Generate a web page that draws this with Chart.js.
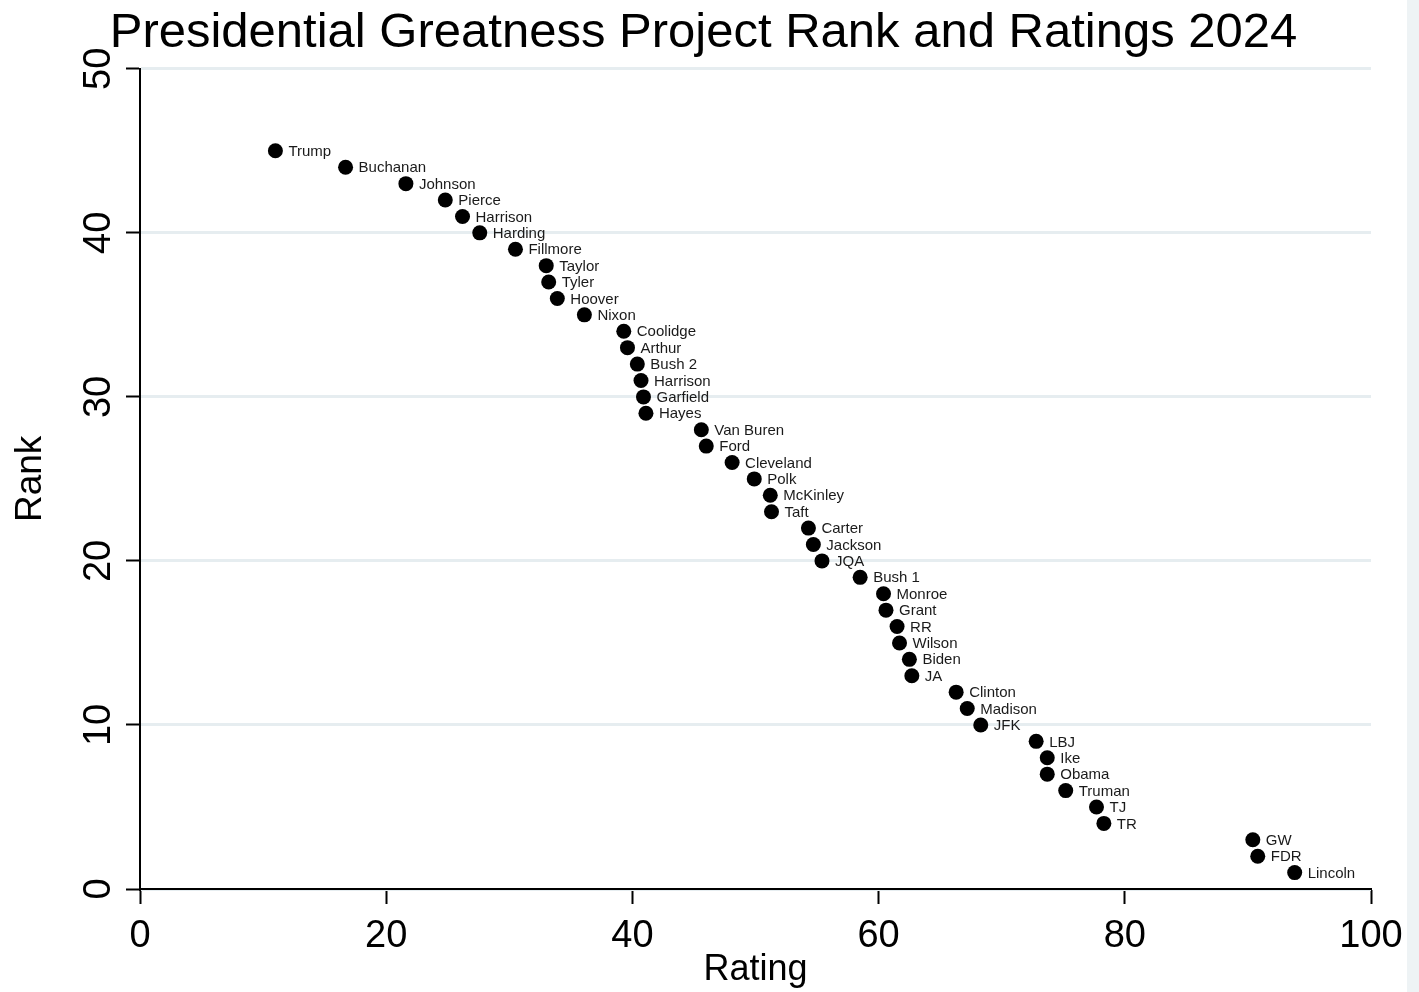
<!DOCTYPE html>
<html>
<head>
<meta charset="utf-8">
<script src="https://cdn.jsdelivr.net/npm/chart.js@4.4.1/dist/chart.umd.min.js"></script>
<style>
  html, body { margin: 0; padding: 0; background: #eef3f5; }
  #wrap { position: absolute; left: 0; top: 0; width: 1407px; height: 992px; background: #ffffff; }
</style>
</head>
<body>
<div id="wrap"><canvas id="c"></canvas></div>
<script>
// ---- Data ----
const presidents = [
  "Trump", "Buchanan", "Johnson", "Pierce", "Harrison", "Harding", "Fillmore",
  "Taylor", "Tyler", "Hoover", "Nixon", "Coolidge", "Arthur", "Bush 2",
  "Harrison", "Garfield", "Hayes", "Van Buren", "Ford", "Cleveland", "Polk",
  "McKinley", "Taft", "Carter", "Jackson", "JQA", "Bush 1", "Monroe", "Grant",
  "RR", "Wilson", "Biden", "JA", "Clinton", "Madison", "JFK", "LBJ", "Ike",
  "Obama", "Truman", "TJ", "TR", "GW", "FDR", "Lincoln"
];
const ratings = [
  11.0, 16.7, 21.6, 24.8, 26.2, 27.6, 30.5,
  33.0, 33.2, 33.9, 36.1, 39.3, 39.6, 40.4,
  40.7, 40.9, 41.1, 45.6, 46.0, 48.1, 49.9,
  51.2, 51.3, 54.3, 54.7, 55.4, 58.5, 60.4, 60.6,
  61.5, 61.7, 62.5, 62.7, 66.3, 67.2, 68.3, 72.8, 73.7,
  73.7, 75.2, 77.7, 78.3, 90.4, 90.8, 93.8
];
const ranks = [
  45, 44, 43, 42, 41, 40, 39,
  38, 37, 36, 35, 34, 33, 32,
  31, 30, 29, 28, 27, 26, 25,
  24, 23, 22, 21, 20, 19, 18, 17,
  16, 15, 14, 13, 12, 11, 10, 9, 8,
  7, 6, 5, 4, 3, 2, 1
];
const xTickValues = [0, 20, 40, 60, 80, 100];
const yTickValues = [0, 10, 20, 30, 40, 50];
const chartTitle = "Presidential Greatness Project Rank and Ratings 2024";
const xTitle = "Rating";
const yTitle = "Rank";

const FONT = '"Liberation Sans", Arial, Helvetica, sans-serif';

const points = ratings.map((r, i) => ({ x: r, y: ranks[i] }));

const pointLabels = {
  id: 'pointLabels',
  afterDatasetsDraw(chart) {
    const meta = chart.getDatasetMeta(0);
    const ctx = chart.ctx;
    ctx.save();
    ctx.font = '15px ' + FONT;
    ctx.fillStyle = '#1a1a1a';
    ctx.textBaseline = 'middle';
    ctx.textAlign = 'left';
    meta.data.forEach((pt, i) => {
      ctx.fillText(presidents[i], pt.x + 13, pt.y + 1);
    });
    ctx.restore();
  }
};

new Chart(document.getElementById('c'), {
  type: 'scatter',
  data: {
    datasets: [{
      data: points,
      pointRadius: 7.5,
      pointHoverRadius: 7.5,
      backgroundColor: '#000000',
      borderWidth: 0
    }]
  },
  plugins: [pointLabels],
  options: {
    responsive: true,
    maintainAspectRatio: false,
    animation: false,
    events: [],
    layout: { padding: 0 },
    plugins: {
      legend: { display: false },
      tooltip: { enabled: false },
      title: {
        display: true,
        text: chartTitle,
        color: '#000000',
        font: { family: FONT, size: 49, weight: 'normal' },
        padding: { top: 4, bottom: 6 }
      }
    },
    scales: {
      x: {
        type: 'linear',
        min: 0,
        max: 100,
        afterBuildTicks(s) { s.ticks = xTickValues.map(v => ({ value: v })); },
        ticks: { color: '#000000', font: { family: FONT, size: 38 }, padding: 10 },
        grid: { display: true, drawOnChartArea: false, drawTicks: true, tickLength: 15, tickColor: '#000000', tickWidth: 2 },
        border: { display: true, color: '#000000', width: 2 },
        title: { display: true, text: xTitle, color: '#000000', font: { family: FONT, size: 36 }, padding: { top: 0, bottom: 0 } },
        afterFit(s) { s.height = 103; s.paddingLeft = 0; s.paddingRight = 36; }
      },
      y: {
        type: 'linear',
        min: 0,
        max: 50,
        afterBuildTicks(s) { s.ticks = yTickValues.map(v => ({ value: v })); },
        ticks: { color: '#000000', font: { family: FONT, size: 38 }, padding: 5, minRotation: 90, maxRotation: 90, crossAlign: 'center' },
        grid: { display: true, drawOnChartArea: true, color: '#e6edf0', lineWidth: 3, drawTicks: true, tickLength: 14, tickColor: '#000000', tickWidth: 2 },
        border: { display: true, color: '#000000', width: 2 },
        title: { display: true, text: yTitle, color: '#000000', font: { family: FONT, size: 37 }, padding: { top: 9, bottom: 0 } },
        afterFit(s) { s.width = 140; s.paddingTop = 0; s.paddingBottom = 0; }
      }
    }
  }
});
</script>
</body>
</html>
